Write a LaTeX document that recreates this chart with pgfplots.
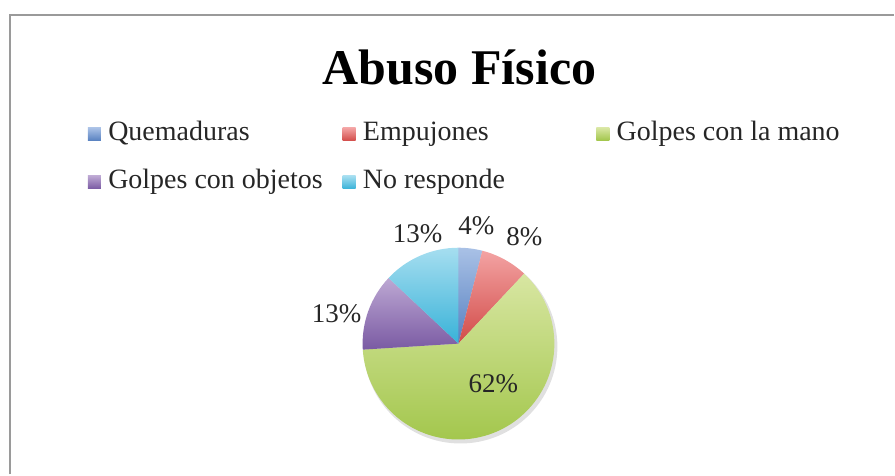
\documentclass[border=0pt]{standalone}
\usepackage{pgfplots}
\usepackage{pgfplotstable}
\pgfplotsset{compat=1.18}
\usepackage{fontspec}
\setmainfont{Liberation Serif}

% slice colours, light (top) and dark (bottom) of each gradient
\definecolor{qTop}{HTML}{A9C1E6}\definecolor{qBot}{HTML}{5680C0}
\definecolor{eTop}{HTML}{F3A3A3}\definecolor{eBot}{HTML}{D24B48}
\definecolor{gTop}{HTML}{D8E6A2}\definecolor{gBot}{HTML}{A0C548}
\definecolor{pTop}{HTML}{BDA8D3}\definecolor{pBot}{HTML}{7A5AA3}
\definecolor{nTop}{HTML}{A6DEF0}\definecolor{nBot}{HTML}{38B2D8}
\definecolor{frame}{HTML}{9A9A9A}

% value in %, label position, legend marker position (pixels from the top left)
\pgfplotstableread[col sep=comma]{
label,value,lx,ly,mx,my,ctop,cbot
Quemaduras,4,477,226,88,141,qTop,qBot
Empujones,8,525,237,343,141,eTop,eBot
Golpes con la mano,62,494,384,597,141,gTop,gBot
Golpes con objetos,13,337,314,88,189,pTop,pBot
No responde,13,418,234,343,189,nTop,nBot
}\abuso

\begin{document}
\begin{tikzpicture}
\begin{axis}[
  width=447.5pt, height=237.5pt,
  scale only axis,
  hide axis,
  xmin=0, xmax=895,
  ymin=0, ymax=475,
  clip=false,
]
\path (axis cs:0,0) rectangle (axis cs:895,475);
\draw[line width=1pt, frame] (axis cs:10,0) -- (axis cs:10,460) -- (axis cs:895,460);

\node[anchor=base, font=\fontsize{25}{30}\selectfont\bfseries]
  at (axis cs:460,390) {Abuso Físico};

% soft shadow under the pie
\fill[black, opacity=0.12] (axis cs:461,128) circle[radius=48.5pt];

\def\cum{0}
\pgfplotsforeachungrouped \i in {0,...,4}{
  \pgfplotstablegetelem{\i}{value}\of\abuso \let\v=\pgfplotsretval
  \pgfplotstablegetelem{\i}{label}\of\abuso \let\lab=\pgfplotsretval
  \pgfplotstablegetelem{\i}{lx}\of\abuso \let\lx=\pgfplotsretval
  \pgfplotstablegetelem{\i}{ly}\of\abuso \let\ly=\pgfplotsretval
  \pgfplotstablegetelem{\i}{mx}\of\abuso \let\mx=\pgfplotsretval
  \pgfplotstablegetelem{\i}{my}\of\abuso \let\my=\pgfplotsretval
  \pgfplotstablegetelem{\i}{ctop}\of\abuso \let\ct=\pgfplotsretval
  \pgfplotstablegetelem{\i}{cbot}\of\abuso \let\cb=\pgfplotsretval
  \pgfmathsetmacro{\sa}{90-3.6*\cum}
  \pgfmathsetmacro{\ea}{\sa-3.6*\v}
  \pgfmathsetmacro{\px}{459+96*cos(\sa)}
  \pgfmathsetmacro{\py}{131+96*sin(\sa)}
  \pgfmathsetmacro{\lyy}{475-\ly}
  \pgfmathsetmacro{\mya}{475-\my}
  \pgfmathsetmacro{\myb}{475-\my+13}
  \pgfmathsetmacro{\mxb}{\mx+13}
  \pgfmathsetmacro{\tx}{\mx+20}
  \edef\temp{%
    \noexpand\shade[top color=\ct, bottom color=\cb]
      (axis cs:459,131) -- (axis cs:\px,\py)
      arc[start angle=\sa, end angle=\ea, radius=48pt] -- cycle;
    \noexpand\node[font=\noexpand\fontsize{13.5}{16}\noexpand\selectfont, text=black!85]
      at (axis cs:\lx,\lyy) {\v\noexpand\%};
    \noexpand\shade[top color=\ct, bottom color=\cb]
      (axis cs:\mx,\mya) rectangle (axis cs:\mxb,\myb);
    \noexpand\node[anchor=base west, inner sep=0pt,
      font=\noexpand\fontsize{14}{16}\noexpand\selectfont, text=black!85]
      at (axis cs:\tx,\mya) {\lab};
  }%
  \temp
  \pgfmathsetmacro{\cum}{\cum+\v}
}
\end{axis}
\end{tikzpicture}
\end{document}
